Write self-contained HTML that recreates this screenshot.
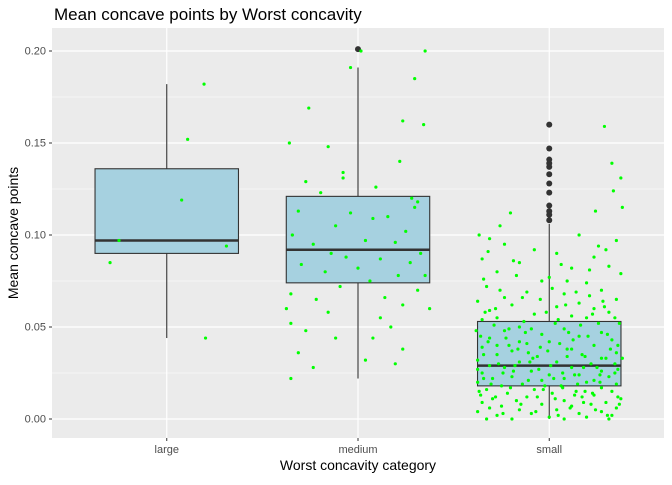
<!DOCTYPE html>
<html><head><meta charset="utf-8"><style>
body{margin:0;background:#fff;font-family:"Liberation Sans",sans-serif}
svg text{font-family:"Liberation Sans",sans-serif}
</style></head><body>
<svg id="c" width="672" height="480"></svg>
<script>
const categories=["large","medium","small"];
const q1=[0.090,0.074,0.018];
const medians=[0.097,0.092,0.029];
const q3=[0.136,0.121,0.053];
const whiskLow=[0.044,0.022,0.000];
const whiskHigh=[0.182,0.191,0.106];
const outliers=[[],[0.201],[0.108,0.111,0.113,0.116,0.123,0.128,0.133,0.137,0.139,0.141,0.147,0.160]];
const yTicks=[0,0.05,0.10,0.15,0.20];
const yTickLabels=["0.00","0.05","0.10","0.15","0.20"];
const jitterLarge=[[0.25,0.182],[0.14,0.152],[0.10,0.119],[-0.32,0.097],[0.40,0.094],[-0.38,0.085],[0.26,0.044]];
const jitterMedium=[[-0.05,0.191],[-0.33,0.169],[-0.46,0.15],[-0.2,0.148],[0.3,0.162],[0.44,0.16],[0.38,0.185],[0.45,0.2],[0.02,0.2],[0.28,0.14],[-0.1,0.131],[-0.35,0.129],[0.12,0.126],[-0.25,0.123],[0.36,0.12],[0.4,0.118],[-0.4,0.113],[0.2,0.11],[0.1,0.109],[-0.15,0.105],[0.32,0.102],[-0.44,0.1],[0.05,0.097],[0.25,0.096],[-0.3,0.095],[0.42,0.09],[-0.08,0.088],[0.15,0.087],[0.35,0.085],[-0.38,0.084],[0.0,0.082],[-0.22,0.08],[0.27,0.078],[0.08,0.075],[-0.12,0.072],[0.4,0.07],[-0.45,0.068],[0.18,0.066],[-0.28,0.065],[0.3,0.062],[-0.48,0.06],[0.48,0.06],[-0.2,0.058],[0.15,0.055],[0.22,0.05],[-0.45,0.052],[-0.35,0.048],[0.1,0.044],[-0.15,0.044],[0.3,0.038],[-0.4,0.036],[0.05,0.032],[0.25,0.03],[-0.45,0.022],[-0.3,0.028],[0.38,0.115],[-0.05,0.112],[-0.18,0.09],[0.45,0.078],[-0.1,0.134]];
const jitterSmall=[[0.37,0.159],[0.42,0.139],[0.48,0.131],[0.43,0.124],[0.49,0.115],[0.31,0.113],[-0.26,0.112],[-0.47,0.1],[-0.4,0.098],[-0.3,0.095],[0.45,0.097],[0.2,0.1],[-0.1,0.092],[0.05,0.09],[0.3,0.088],[-0.45,0.087],[-0.2,0.085],[0.4,0.083],[0.15,0.082],[-0.35,0.08],[0.48,0.079],[0.0,0.077],[-0.05,0.075],[0.25,0.074],[-0.42,0.072],[0.35,0.07],[-0.15,0.069],[0.1,0.068],[-0.3,0.066],[0.45,0.065],[-0.48,0.064],[0.2,0.063],[-0.25,0.062],[0.05,0.061],[0.3,0.06],[-0.4,0.059],[0.4,0.058],[-0.1,0.057],[0.15,0.056],[-0.35,0.055],[0.25,0.055],[-0.45,0.054],[0.47,0.052],[-0.2,0.05],[0.1,0.049],[-0.3,0.048],[0.35,0.047],[-0.05,0.046],[0.2,0.045],[-0.4,0.044],[0.42,0.043],[0.0,0.042],[-0.15,0.041],[0.3,0.04],[-0.45,0.039],[0.12,0.038],[-0.25,0.037],[0.45,0.036],[-0.35,0.035],[0.22,0.035],[-0.08,0.034],[0.38,0.033],[-0.48,0.032],[0.05,0.031],[-0.2,0.031],[0.28,0.03],[-0.4,0.029],[0.15,0.028],[-0.3,0.028],[0.46,0.027],[-0.12,0.026],[0.35,0.026],[-0.45,0.025],[0.0,0.024],[0.2,0.024],[-0.25,0.023],[0.4,0.023],[-0.38,0.022],[0.1,0.022],[-0.05,0.021],[0.3,0.021],[-0.48,0.02],[0.25,0.02],[-0.18,0.019],[0.45,0.019],[-0.32,0.018],[0.08,0.018],[0.35,0.017],[-0.42,0.016],[-0.1,0.016],[0.18,0.015],[0.42,0.015],[-0.28,0.014],[0.02,0.014],[-0.46,0.013],[0.3,0.013],[-0.15,0.012],[0.22,0.012],[-0.38,0.011],[0.48,0.011],[0.1,0.01],[-0.22,0.01],[0.38,0.009],[-0.45,0.009],[-0.05,0.008],[0.28,0.008],[-0.32,0.007],[0.15,0.007],[0.45,0.006],[-0.4,0.006],[0.05,0.005],[-0.2,0.005],[0.35,0.004],[-0.48,0.004],[0.2,0.003],[-0.12,0.003],[0.42,0.002],[-0.35,0.002],[0.0,0.001],[0.25,0.001],[-0.25,0.0],[0.4,0.0],[-0.42,0.0],[0.1,0.0],[-0.46,0.045],[0.46,0.04],[-0.36,0.06],[0.33,0.052],[-0.06,0.065],[0.12,0.075],[-0.22,0.078],[0.38,0.092],[-0.33,0.105],[0.27,0.067],[-0.44,0.076],[0.06,0.054],[-0.16,0.047],[0.44,0.03],[-0.03,0.018],[0.16,0.043],[-0.27,0.04],[0.34,0.024],[-0.08,0.012],[0.24,0.034]];
const jitterSmallExtra=[[-0.43,0.058],[-0.37,0.051],[-0.29,0.044],[-0.21,0.038],[-0.13,0.031],[-0.07,0.027],[0.03,0.022],[0.09,0.017],[0.17,0.013],[0.23,0.009],[0.31,0.005],[0.39,0.002],[0.47,0.008],[-0.47,0.015],[-0.39,0.019],[-0.31,0.025],[-0.23,0.029],[-0.11,0.033],[-0.01,0.037],[0.07,0.041],[0.13,0.047],[0.21,0.051],[0.29,0.057],[0.37,0.061],[0.44,0.055],[-0.44,0.035],[-0.34,0.03],[-0.24,0.026],[-0.14,0.021],[-0.04,0.016],[0.04,0.011],[0.14,0.006],[0.24,0.015],[0.34,0.02],[0.44,0.025],[-0.41,0.042],[-0.27,0.049],[-0.17,0.053],[-0.02,0.058],[0.11,0.062],[0.26,0.045],[0.41,0.038],[-0.36,0.012],[-0.19,0.008],[-0.09,0.004],[0.06,0.002],[0.19,0.019],[0.32,0.028],[0.49,0.033],[-0.49,0.048],[-0.33,0.07],[-0.18,0.066],[0.02,0.071],[0.18,0.069],[0.36,0.064],[-0.24,0.086],[0.08,0.084],[0.27,0.081],[-0.41,0.091],[0.33,0.094],[-0.14,0.036],[0.01,0.029],[0.17,0.024],[0.29,0.014],[-0.31,0.003],[-0.06,0.039],[0.12,0.034],[0.39,0.046],[-0.44,0.022],[-0.26,0.017],[0.23,0.028],[-0.12,0.049],[0.04,0.052],[0.46,0.012],[-0.48,0.027],[0.15,0.038],[-0.2,0.042],[0.35,0.033],[-0.35,0.04],[0.09,0.025]];
const jitterAll=[jitterLarge,jitterMedium,jitterSmall.concat(jitterSmallExtra)];

const NS="http://www.w3.org/2000/svg";
const svg=document.getElementById('c');
const L=52,R=664,T=28,B=438;
const step=(R-L)/3.2;
const xs=i=>L+step*(i+0.6);
const ys=v=>419-v*1840;
function mk(tag,attrs,parent){const e=document.createElementNS(NS,tag);for(const k in attrs)e.setAttribute(k,attrs[k]);(parent||svg).appendChild(e);return e;}

let e=mk('rect',{x:L,y:T,width:R-L,height:B-T,fill:'#EBEBEB'});


for(let i=0;i<yTicks.length-1;i++){
  e=mk('line',{x1:L,x2:R,y1:ys((yTicks[i]+yTicks[i+1])/2),y2:ys((yTicks[i]+yTicks[i+1])/2),stroke:'#fff','stroke-width':0.6});
  
  
}
yTicks.forEach((t,i)=>{
  e=mk('line',{x1:L,x2:R,y1:ys(t),y2:ys(t),stroke:'#fff','stroke-width':1.2});
  
  
  e=mk('line',{x1:L-3,x2:L,y1:ys(t),y2:ys(t),stroke:'#333','stroke-width':1});
  
  
  e=mk('text',{x:L-6,y:ys(t)+3.5,'text-anchor':'end','font-size':11,fill:'#4D4D4D'});
  e.textContent=yTickLabels[i];
  
  
});
categories.forEach((c,i)=>{
  const x=xs(i);
  e=mk('line',{x1:x,x2:x,y1:T,y2:B,stroke:'#fff','stroke-width':1.2});
  
  
  e=mk('line',{x1:x,x2:x,y1:B,y2:B+3,stroke:'#333'});
  
  
  e=mk('text',{x:x,y:B+15,'text-anchor':'middle','font-size':11,fill:'#4D4D4D'});
  e.textContent=c;
  
  
});
const bw=step*0.75;
categories.forEach((c,i)=>{
  const x=xs(i);
  const g=mk('g',{});
  
  
  mk('line',{x1:x,x2:x,y1:ys(q3[i]),y2:ys(whiskHigh[i]),stroke:'#333','stroke-width':1.1},g);
  mk('line',{x1:x,x2:x,y1:ys(q1[i]),y2:ys(whiskLow[i]),stroke:'#333','stroke-width':1.1},g);
  mk('rect',{x:x-bw/2,y:ys(q3[i]),width:bw,height:ys(q1[i])-ys(q3[i]),fill:'#A6D1E0',stroke:'#333','stroke-width':1.1},g);
  mk('line',{x1:x-bw/2,x2:x+bw/2,y1:ys(medians[i]),y2:ys(medians[i]),stroke:'#333','stroke-width':2.5},g);
  outliers[i].forEach(v=>{
    const o=mk('circle',{cx:x,cy:ys(v),r:3,fill:'#333'},g);
    
    
  });
});
jitterAll.forEach((pts,i)=>{
  pts.forEach(p=>{
    const d=mk('circle',{cx:xs(i)+p[0]*step*0.78,cy:ys(p[1]),r:1.6,fill:'#00FF00'});
    
    
  });
});
e=mk('text',{x:L+2,y:20,'font-size':17,fill:'#000'});
e.textContent='Mean concave points by Worst concavity';


e=mk('text',{x:(L+R)/2,y:470,'text-anchor':'middle','font-size':14,fill:'#000'});
e.textContent='Worst concavity category';


e=mk('text',{x:18,y:(T+B)/2,'text-anchor':'middle','font-size':14,fill:'#000',transform:'rotate(-90 18 '+(T+B)/2+')'});
e.textContent='Mean concave points';


</script>
</body></html>
